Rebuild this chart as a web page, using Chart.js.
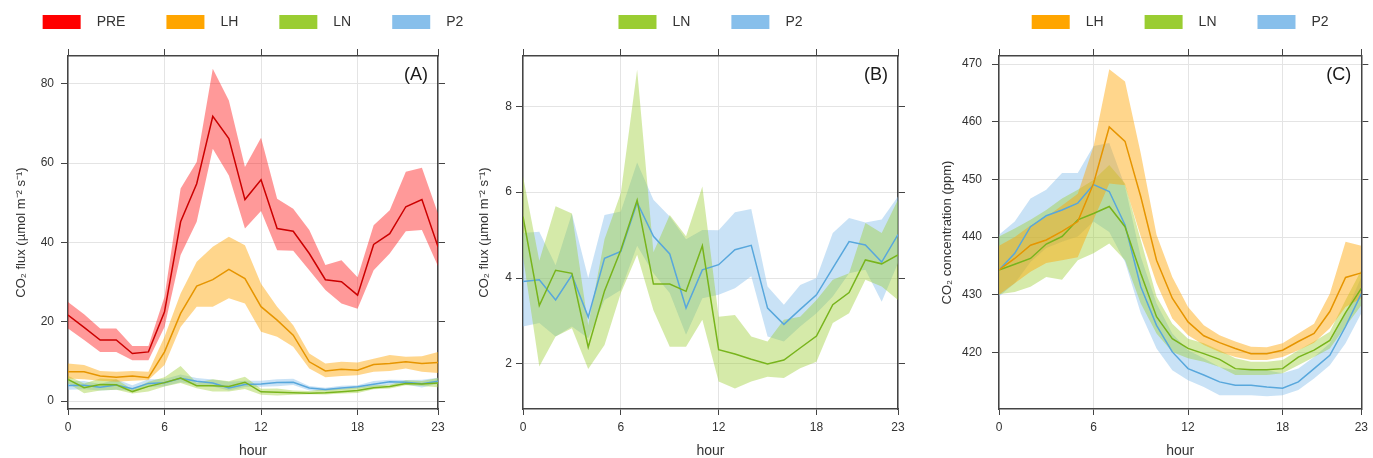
<!DOCTYPE html>
<html><head><meta charset="utf-8">
<script src="https://cdn.jsdelivr.net/npm/chart.js@4"></script>
<style>
html,body{margin:0;padding:0;background:#fff;}
#wrap{position:relative;width:1373px;height:458px;overflow:hidden;background:#fff;}
canvas{position:absolute;top:0;}
</style></head><body>
<div id="wrap">
<canvas id="cA" width="472" height="458" style="left:0px"></canvas>
<canvas id="cB" width="460" height="458" style="left:460px"></canvas>
<canvas id="cC" width="453" height="458" style="left:920px"></canvas>
</div>
<script>
// ---------- data ----------
const hours = [0,1,2,3,4,5,6,7,8,9,10,11,12,13,14,15,16,17,18,19,20,21,22,23];
const xTicks = [0,6,12,18,23];
const yTicksA = [0,20,40,60,80];
const yTicksB = [2,4,6,8];
const yTicksC = [420,430,440,450,460,470];

// Panel A/B: CO2 flux (umol m-2 s-1)
const PRE_flux_mean = [21.7,18.6,15.4,15.4,12.0,12.4,22.5,45.2,54.8,71.8,66.2,50.8,55.8,43.5,42.8,37.2,30.6,30.1,26.7,39.5,42.2,49.0,50.8,38.9];
const PRE_flux_hi   = [25.0,21.9,18.3,18.3,13.9,13.9,26.3,53.6,60.3,83.8,75.8,59.0,66.4,51.0,48.5,43.1,34.3,35.5,31.2,44.3,48.1,57.8,58.8,47.3];
const PRE_flux_lo   = [18.3,15.4,12.4,12.4,10.3,10.3,18.7,36.8,45.2,63.6,56.9,43.5,47.9,38.0,37.9,33.0,28.0,24.6,23.3,33.0,37.2,42.8,43.1,34.0];

const LH_flux_mean = [7.4,7.4,6.3,6.0,6.3,5.9,12.4,22.1,29.0,30.6,33.2,30.9,23.8,20.4,16.6,9.9,7.6,8.0,7.8,9.2,9.5,9.9,9.5,9.7];
const LH_flux_hi   = [9.5,9.1,7.6,7.4,7.6,7.4,16.2,27.1,35.1,38.9,41.4,39.3,29.6,23.8,19.1,12.0,9.5,9.9,9.7,10.7,11.6,11.2,11.3,12.4];
const LH_flux_lo   = [5.7,5.5,5.1,4.9,5.1,5.3,9.1,18.7,23.8,23.8,25.9,24.6,17.5,16.2,13.7,8.2,6.0,6.3,6.5,7.4,7.6,8.2,7.4,7.1];

const LN_flux_mean = [5.43,3.36,4.18,4.11,2.39,3.70,4.65,5.81,3.86,3.86,3.69,4.75,2.33,2.23,2.11,2.00,2.09,2.37,2.65,3.38,3.66,4.42,4.33,4.54];
const LN_flux_hi   = [6.37,4.40,5.67,5.50,2.90,4.90,5.98,8.85,4.60,5.47,4.97,6.13,3.10,3.14,2.64,2.52,3.03,3.10,3.49,3.96,4.11,5.28,5.05,5.82];
const LN_flux_lo   = [4.50,1.94,2.64,2.83,1.88,2.44,3.65,4.54,3.25,2.40,2.40,3.03,1.59,1.43,1.59,1.70,1.67,1.90,2.05,2.95,3.18,3.96,3.80,3.49];

const P2_flux_mean = [3.92,3.96,3.49,4.07,3.09,4.46,4.62,5.76,4.97,4.56,3.30,4.19,4.31,4.66,4.76,3.30,2.92,3.27,3.61,4.23,4.85,4.77,4.37,5.01];
const P2_flux_hi   = [5.05,5.08,4.30,5.50,4.00,5.47,5.55,6.69,5.82,5.43,4.90,5.12,5.11,5.53,5.61,3.80,3.38,3.84,4.00,5.05,5.40,5.29,5.36,5.90];
const P2_flux_lo   = [2.87,2.95,2.64,2.87,2.60,3.49,3.72,4.75,4.11,3.65,2.68,3.53,3.61,3.76,4.04,2.64,2.52,2.87,3.18,3.57,4.11,4.19,3.45,4.35];

// Panel C: CO2 concentration (ppm)
const LH_conc_mean = [434.3,436.3,438.6,439.5,441.0,442.7,449.3,459.1,456.6,447.0,436.0,429.4,425.3,422.9,421.7,420.7,419.8,419.8,420.4,421.9,423.3,427.1,433.0,433.8];
const LH_conc_hi   = [438.5,440.0,442.0,443.5,445.5,447.5,455.7,469.1,467.0,454.5,440.4,433.1,427.9,424.7,423.0,421.9,421.0,420.9,421.6,423.3,425.0,430.2,439.2,438.5];
const LH_conc_lo   = [430.0,432.0,434.0,435.5,436.0,436.5,443.0,449.3,449.0,440.1,432.0,425.9,423.0,421.3,420.1,419.2,418.7,418.7,419.2,420.4,421.7,424.2,427.9,429.4];

const LN_conc_mean = [434.3,435.3,436.3,438.8,440.1,443.0,444.1,445.3,441.8,433.7,426.2,422.4,420.7,419.8,418.8,417.2,417.0,417.0,417.2,419.2,420.4,422.1,426.9,431.1];
const LN_conc_hi   = [440.1,441.5,443.0,444.7,446.7,448.2,449.9,452.5,449.3,439.5,429.7,425.0,422.4,421.6,420.4,419.0,418.4,418.4,418.7,420.4,421.9,423.6,429.1,434.3];
const LN_conc_lo   = [430.1,430.5,431.4,433.1,432.6,436.0,437.2,438.9,436.0,428.5,423.3,420.1,419.0,418.4,417.5,416.1,416.1,416.1,416.4,417.8,419.2,420.7,424.5,428.2];

const P2_conc_mean = [434.3,437.2,441.8,443.7,444.7,445.9,449.1,447.9,442.1,431.4,424.7,420.1,417.2,416.1,414.9,414.3,414.3,414.0,413.8,414.9,417.2,419.5,424.5,430.2];
const P2_conc_hi   = [440.4,442.7,446.7,448.2,451.1,451.1,455.8,456.3,448.8,436.6,428.5,423.3,420.4,419.0,417.5,416.9,417.2,416.9,416.4,417.2,419.2,421.6,426.8,433.1];
const P2_conc_lo   = [429.7,432.0,435.7,438.1,439.2,440.1,442.7,440.9,435.7,426.8,420.7,416.9,415.2,414.0,412.6,412.6,412.6,412.4,412.6,413.5,415.5,417.8,421.6,426.8];

// ---------- styles ----------
const COLORS = {
  PRE: {key:'#ff0000', line:'#cc0000', band:'rgba(255,0,0,0.40)'},
  LH:  {key:'#ffa500', line:'#e69500', band:'rgba(255,165,0,0.45)'},
  LN:  {key:'#9acd32', line:'#78b41c', band:'rgba(154,205,50,0.42)'},
  P2:  {key:'#87bfeb', line:'#58a7dc', band:'rgba(135,191,235,0.45)'}
};
const REG = '"Liberation Sans", Arial, sans-serif';
const GRID = '#e4e4e4';
const AXIS = '#444444';
const TXT = '#333333';

function pts(arr){ return hours.map((h,i)=>({x:h, y:arr[i]})); }

function buildDatasets(series){
  const ds = [];
  series.forEach(s=>{
    const c = COLORS[s.name];
    ds.push({label:s.name+' lower', data:pts(s.lo), borderWidth:0, pointRadius:0, fill:false, order:2, borderColor:'rgba(0,0,0,0)', tension:0});
    ds.push({label:s.name+' upper', data:pts(s.hi), borderWidth:0, pointRadius:0, fill:'-1', backgroundColor:c.band, borderColor:'rgba(0,0,0,0)', order:2, tension:0});
  });
  series.forEach(s=>{
    const c = COLORS[s.name];
    ds.push({label:s.name, data:pts(s.mean), borderWidth:1.5, borderColor:c.line, pointRadius:0, fill:false, order:1, tension:0});
  });
  return ds;
}

const decorPlugin = {
  id:'panelDecor',
  afterDraw(chart, args, opts){
    const ctx = chart.ctx, ca = chart.chartArea;
    ctx.save();
    // panel label
    ctx.font = '18px ' + REG;
    ctx.fillStyle = '#1a1a1a';
    ctx.textAlign = 'right';
    ctx.textBaseline = 'middle';
    ctx.fillText(opts.label, ca.right - 10, ca.top + 19);
    // legend
    ctx.font = '14px ' + REG;
    const boxW = 38, boxH = 14, gap = 16, spacing = 41;
    const widths = opts.items.map(n => boxW + gap + ctx.measureText(n).width);
    const total = widths.reduce((a,b)=>a+b,0) + spacing*(widths.length-1);
    let x = (ca.left + ca.right)/2 - total/2;
    const yTop = 15;
    ctx.textAlign = 'left';
    opts.items.forEach((n,i)=>{
      ctx.fillStyle = COLORS[n].key;
      ctx.fillRect(x, yTop, boxW, boxH);
      ctx.fillStyle = TXT;
      ctx.fillText(n, x + boxW + gap, yTop + boxH/2 + 0.5);
      x += widths[i] + spacing;
    });
    ctx.restore();
  }
};

function makeChart(id, cfg){
  const setTicks = arr => (s => { s.ticks = arr.map(v=>({value:v})); });
  new Chart(document.getElementById(id), {
    type:'line',
    data:{datasets: buildDatasets(cfg.series)},
    plugins:[decorPlugin],
    options:{
      responsive:false, animation:false, devicePixelRatio:1,
      layout:{padding:0},
      plugins:{legend:{display:false}, tooltip:{enabled:false},
        panelDecor:{label:cfg.label, items:cfg.legend}},
      scales:{
        x:{type:'linear', position:'bottom', min:0, max:23,
          afterBuildTicks:setTicks(xTicks),
          ticks:{font:{family:REG, size:12}, color:TXT, padding:5, maxRotation:0, autoSkip:false},
          grid:{color:GRID, tickColor:AXIS, tickLength:6, lineWidth:1},
          border:{color:AXIS, width:1.5},
          title:{display:true, text:'hour', color:TXT, font:{family:REG, size:14, lineHeight:1}, padding:{top:0,bottom:0}},
          afterFit:s=>{s.height = 49;}},
        x2:{type:'linear', position:'top', min:0, max:23,
          afterBuildTicks:setTicks(xTicks),
          ticks:{display:false},
          grid:{drawOnChartArea:false, tickColor:AXIS, tickLength:7},
          border:{color:AXIS, width:1.5},
          afterFit:s=>{s.height = 56;}},
        y:{type:'linear', position:'left', min:cfg.ymin, max:cfg.ymax,
          afterBuildTicks:setTicks(cfg.yTicks),
          ticks:{font:{family:REG, size:12}, color:TXT, padding:cfg.tickPad, autoSkip:false},
          grid:{color:GRID, tickColor:AXIS, tickLength:7, lineWidth:1},
          border:{color:AXIS, width:1.5},
          title:{display:true, text:cfg.ytitle, color:TXT, font:{family:REG, size:13, lineHeight:1}, padding:{top:cfg.titlePad, bottom:0}},
          afterFit:s=>{s.width = cfg.leftW;}},
        y2:{type:'linear', position:'right', min:cfg.ymin, max:cfg.ymax,
          afterBuildTicks:setTicks(cfg.yTicks),
          ticks:{display:false},
          grid:{drawOnChartArea:false, tickColor:AXIS, tickLength:7},
          border:{color:AXIS, width:1.5},
          afterFit:s=>{s.width = cfg.rightW;}}
      }
    }
  });
}

const FLUX_TITLE = 'CO\u2082 flux (\u00B5mol m\u207B\u00B2 s\u207B\u00B9)';

makeChart('cA', {
  label:'(A)', legend:['PRE','LH','LN','P2'],
  series:[
    {name:'PRE', mean:PRE_flux_mean, lo:PRE_flux_lo, hi:PRE_flux_hi},
    {name:'LH', mean:LH_flux_mean, lo:LH_flux_lo, hi:LH_flux_hi},
    {name:'LN', mean:LN_flux_mean, lo:LN_flux_lo, hi:LN_flux_hi},
    {name:'P2', mean:P2_flux_mean, lo:P2_flux_lo, hi:P2_flux_hi}
  ],
  ymin:-2, ymax:87, yTicks:yTicksA, ytitle:FLUX_TITLE,
  leftW:68, rightW:34, tickPad:7, titlePad:15
});
makeChart('cB', {
  label:'(B)', legend:['LN','P2'],
  series:[
    {name:'LN', mean:LN_flux_mean, lo:LN_flux_lo, hi:LN_flux_hi},
    {name:'P2', mean:P2_flux_mean, lo:P2_flux_lo, hi:P2_flux_hi}
  ],
  ymin:0.95, ymax:9.17, yTicks:yTicksB, ytitle:FLUX_TITLE,
  leftW:63, rightW:22, tickPad:4, titlePad:18
});
makeChart('cC', {
  label:'(C)', legend:['LH','LN','P2'],
  series:[
    {name:'LH', mean:LH_conc_mean, lo:LH_conc_lo, hi:LH_conc_hi},
    {name:'LN', mean:LN_conc_mean, lo:LN_conc_lo, hi:LN_conc_hi},
    {name:'P2', mean:P2_conc_mean, lo:P2_conc_lo, hi:P2_conc_hi}
  ],
  ymin:410.2, ymax:471.4, yTicks:yTicksC, ytitle:'CO\u2082 concentration (ppm)',
  leftW:79, rightW:6, tickPad:10, titlePad:21
});
</script>
</body></html>
